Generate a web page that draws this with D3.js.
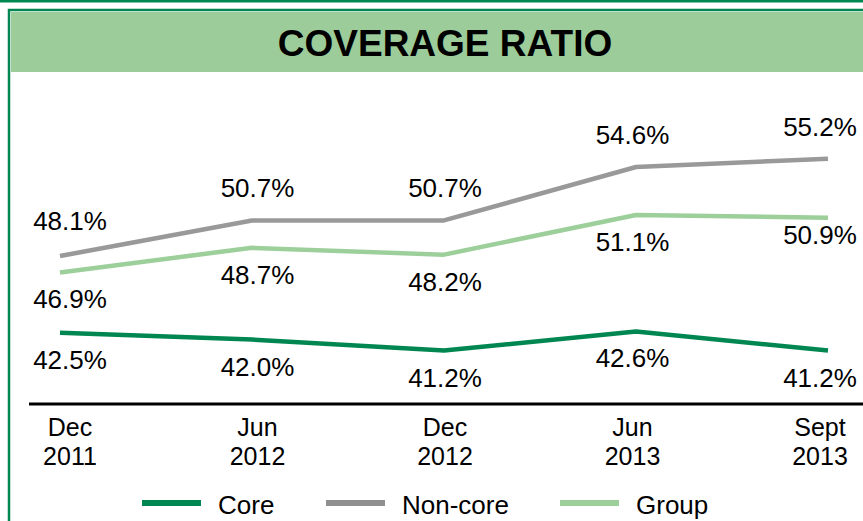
<!DOCTYPE html>
<html lang="en">
<head>
  <meta charset="UTF-8">
  <title>Coverage Ratio</title>
  <script src="https://d3js.org/d3.v7.min.js"></script>
  <style>
    body { margin: 0; background: #fff; }
    text {
      font-family: "Liberation Sans", Arial, sans-serif;
      fill: #000;
    }
  </style>
</head>
<body>
  <svg width="863" height="521"></svg>
  <script>
    // Chart data
    const periods = [["Dec", "2011"], ["Jun", "2012"], ["Dec", "2012"], ["Jun", "2013"], ["Sept", "2013"]];
    const core = [42.5, 42.0, 41.2, 42.6, 41.2];
    const nonCore = [48.1, 50.7, 50.7, 54.6, 55.2];
    const group = [46.9, 48.7, 48.2, 51.1, 50.9];

    const series = [
      { name: "Core", values: core, color: "#008751", pos: "below" },
      { name: "Non-core", values: nonCore, color: "#999999", pos: "above" },
      { name: "Group", values: group, color: "#9dcf9b", pos: "below" }
    ];

    const svg = d3.select("svg"),
          width = +svg.attr("width"),
          height = +svg.attr("height");

    const dark = "#008751";

    // frame: top rule, box border, title band
    svg.append("rect").attr("x", 0).attr("y", 0).attr("width", width).attr("height", 2.5).attr("fill", dark);
    svg.append("rect").attr("x", 9).attr("y", 10).attr("width", width).attr("height", height)
      .attr("fill", "#fff").attr("stroke", dark).attr("stroke-width", 2.5);
    svg.append("rect").attr("x", 11).attr("y", 12).attr("width", width).attr("height", 60)
      .attr("fill", "#9ccc9a");
    svg.append("text")
      .attr("x", 445).attr("y", 56)
      .attr("text-anchor", "middle")
      .style("font-size", "37px").style("font-weight", "bold")
      .text("COVERAGE RATIO");

    const idx = d3.range(periods.length);
    const x = d3.scalePoint().domain(idx).range([60, 828]);
    const xLabel = d3.scalePoint().domain(idx).range([70, 820]);
    const y = d3.scaleLinear().domain([37.3, 60]).range([404, 93]);

    // axis line
    svg.append("line")
      .attr("x1", 29).attr("x2", width)
      .attr("y1", y(37.3)).attr("y2", y(37.3))
      .attr("stroke", "#000").attr("stroke-width", 3);

    // category labels
    const cat = svg.append("g").selectAll("text")
      .data(periods)
      .enter().append("text")
        .attr("text-anchor", "middle")
        .style("font-size", "25px");
    cat.append("tspan").attr("x", (d, i) => xLabel(i)).attr("y", 436).text(d => d[0]);
    cat.append("tspan").attr("x", (d, i) => xLabel(i)).attr("y", 465).text(d => d[1]);

    const line = d3.line().x((d, i) => x(i)).y(d => y(d));

    svg.append("g").selectAll("path")
      .data(series)
      .enter().append("path")
        .attr("d", d => line(d.values))
        .attr("fill", "none")
        .attr("stroke", d => d.color)
        .attr("stroke-width", 4.5)
        .attr("stroke-linejoin", "round");

    // value labels
    series.forEach(s => {
      svg.append("g").selectAll("text")
        .data(s.values)
        .enter().append("text")
          .attr("x", (d, i) => xLabel(i))
          .attr("y", (d, i) => {
            if (s.pos === "above") return y(d) - (i === 0 ? 26 : 23);
            if (s.name === "Group" && i === s.values.length - 1) return y(d) + 26;
            return y(d) + 36;
          })
          .attr("text-anchor", "middle")
          .style("font-size", "26px")
          .text(d => d.toFixed(1) + "%");
    });

    // legend
    const legendX = [142, 326, 560];
    const legend = svg.append("g").selectAll("g")
      .data(series)
      .enter().append("g")
        .attr("transform", (d, i) => `translate(${legendX[i]},503)`);
    legend.append("line")
      .attr("x1", 0).attr("x2", 59)
      .attr("stroke", d => d.color === "#999999" ? "#8f8f8f" : d.color)
      .attr("stroke-width", 6);
    legend.append("text")
      .attr("x", 76).attr("y", 11)
      .style("font-size", "26px")
      .text(d => d.name);
  </script>
</body>
</html>
